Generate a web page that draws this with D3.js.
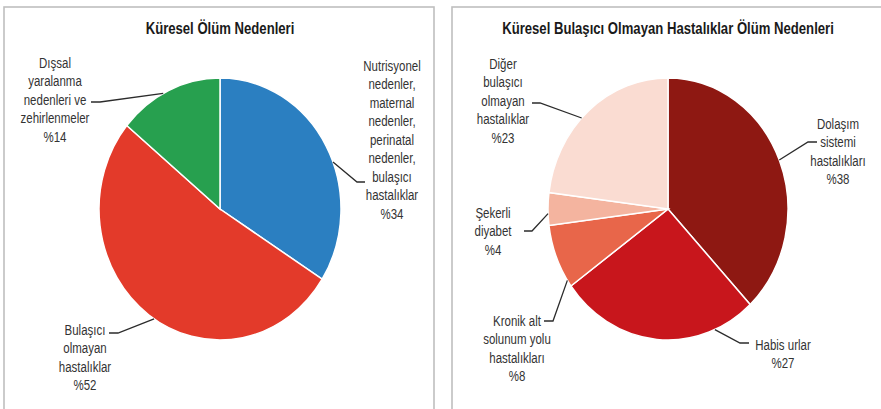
<!DOCTYPE html>
<html>
<head>
<meta charset="utf-8">
<script src="https://cdn.jsdelivr.net/npm/d3@7"></script>
<style>
body { margin: 0; background: #fff; }
text { font-family: "Liberation Sans", Arial, sans-serif; }
</style>
</head>
<body>
<div class="canva"></div>
<script>
// data
const leftTitle = "Küresel Ölüm Nedenleri";
const leftCategories = [
  "Nutrisyonel nedenler, maternal nedenler, perinatal nedenler, bulaşıcı hastalıklar",
  "Bulaşıcı olmayan hastalıklar",
  "Dışsal yaralanma nedenleri ve zehirlenmeler"
];
const leftValues = [34, 52, 14];
const leftColors = ["#2b7fc1", "#e33a2a", "#27a04f"];
const leftLabelLines = [
  ["Nutrisyonel", "nedenler,", "maternal", "nedenler,", "perinatal", "nedenler,", "bulaşıcı", "hastalıklar"],
  ["Bulaşıcı", "olmayan", "hastalıklar"],
  ["Dışsal", "yaralanma", "nedenleri ve", "zehirlenmeler"]
];

const rightTitle = "Küresel Bulaşıcı Olmayan Hastalıklar Ölüm Nedenleri";
const rightCategories = [
  "Dolaşım sistemi hastalıkları",
  "Habis urlar",
  "Kronik alt solunum yolu hastalıkları",
  "Şekerli diyabet",
  "Diğer bulaşıcı olmayan hastalıklar"
];
const rightValues = [38, 27, 8, 4, 23];
const rightColors = ["#8e1812", "#c8161c", "#e8664a", "#f4b49f", "#fadcd2"];
const rightLabelLines = [
  ["Dolaşım", "sistemi", "hastalıkları"],
  ["Habis urlar"],
  ["Kronik alt", "solunum yolu", "hastalıkları"],
  ["Şekerli", "diyabet"],
  ["Diğer", "bulaşıcı", "olmayan", "hastalıklar"]
];

// label layout: text centre x, first line y, anchor angle on pie (deg), knee, end
const leftLayout = [
  {x: 392, y: 66, deg: 69, knee: [357, 182], end: [365, 182]},
  {x: 85, y: 330, deg: 213, knee: [118, 333], end: [109, 333]},
  {x: 55, y: 63, deg: 332, knee: [100, 102], end: [91, 102]}
];
const rightLayout = [
  {x: 838, y: 124, deg: 68, knee: [808, 142], end: [817, 142]},
  {x: 783, y: 345, deg: 157, knee: [740, 343], end: [749, 343]},
  {x: 517, y: 321, deg: 237, knee: [553, 321], end: [544, 321]},
  {x: 493, y: 213, deg: 268, knee: [532, 231], end: [524, 231]},
  {x: 503, y: 64, deg: 314, knee: [540, 103], end: [532, 103]}
];

const W = 881, H = 409;
const lineH = 18.5;
const narrow = 0.82; // squeeze text to look like a condensed face

const svg = d3.select(".canva").append("svg")
  .attr("width", W)
  .attr("height", H);

// panel frames
svg.append("rect")
  .attr("x", 4).attr("y", 7)
  .attr("width", 430).attr("height", 420)
  .attr("fill", "none")
  .attr("stroke", "#bfbfbf")
  .attr("stroke-width", 1.6);

svg.append("rect")
  .attr("x", 452).attr("y", 7)
  .attr("width", 440).attr("height", 420)
  .attr("fill", "none")
  .attr("stroke", "#bfbfbf")
  .attr("stroke-width", 1.6);

function drawPie(cx, cy, rx, ry, title, cats, values, colors, lines, layout) {
  const g = svg.append("g");

  g.append("g")
    .attr("transform", `translate(${cx},34) scale(${narrow},1)`)
    .append("text")
    .text(title)
    .attr("text-anchor", "middle")
    .attr("font-size", 16)
    .attr("font-weight", "bold")
    .attr("fill", "#1a1a1a");

  const pie = d3.pie().sort(null).value(d => d);
  const arcs = pie(values);
  const arc = d3.arc().innerRadius(0).outerRadius(rx);

  // slightly stretched vertically like the original
  g.append("g")
    .attr("transform", `translate(${cx},${cy}) scale(1,${ry / rx})`)
    .selectAll("path")
    .data(arcs)
    .join("path")
    .attr("d", arc)
    .attr("fill", (d, i) => colors[i])
    .attr("stroke", "#fff")
    .attr("stroke-width", 1.5)
    .attr("vector-effect", "non-scaling-stroke");

  // labels and leader lines
  arcs.forEach((d, i) => {
    const L = layout[i];
    const a = L.deg * Math.PI / 180;
    const sx = cx + rx * Math.sin(a);
    const sy = cy - ry * Math.cos(a);

    g.append("polyline")
      .attr("points", [[sx, sy], L.knee, L.end].map(p => p.join(",")).join(" "))
      .attr("fill", "none")
      .attr("stroke", "#2b2b2b")
      .attr("stroke-width", 1.3);

    const t = g.append("g")
      .attr("transform", `translate(${L.x},0) scale(${narrow},1)`)
      .append("text")
      .attr("text-anchor", "middle")
      .attr("font-size", 14)
      .attr("fill", "#333");
    const all = lines[i].concat(["%" + values[i]]);
    all.forEach((s, k) => {
      t.append("tspan")
        .attr("x", 0)
        .attr("y", L.y + k * lineH + 5)
        .text(s);
    });
  });
}

drawPie(220, 209, 121, 131, leftTitle, leftCategories, leftValues, leftColors, leftLabelLines, leftLayout);
drawPie(668, 209, 120, 131, rightTitle, rightCategories, rightValues, rightColors, rightLabelLines, rightLayout);
</script>
</body>
</html>
